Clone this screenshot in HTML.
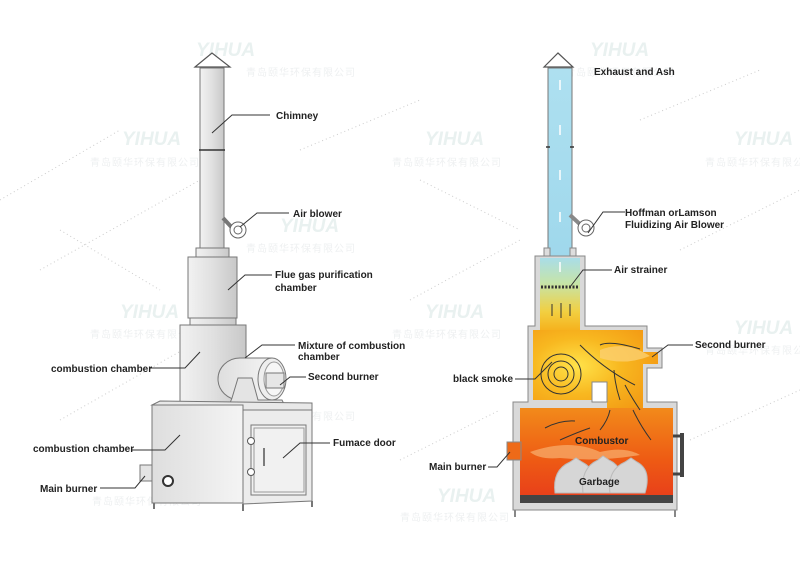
<!DOCTYPE html>
<html><head><meta charset="utf-8"><style>
html,body{margin:0;padding:0;background:#fff;}
svg{display:block;font-family:"Liberation Sans","Noto Sans CJK SC",sans-serif;}
.l{font-size:10px;font-weight:bold;fill:#222;}
.w{font-size:10px;fill:#eef0f1;font-family:"Noto Sans CJK SC",sans-serif;letter-spacing:1px;}
.y{font-size:19px;font-style:italic;font-weight:bold;fill:#e9f1f0;}
.ln{stroke:#333;stroke-width:1;fill:none;}
.d{stroke:#ccc;stroke-width:1;stroke-dasharray:1 3;fill:none;}
</style></head><body>
<svg width="800" height="566" viewBox="0 0 800 566">
<defs>
<linearGradient id="g" x1="0" x2="1"><stop offset="0" stop-color="#f2f2f2"/><stop offset=".5" stop-color="#e0e0e0"/><stop offset="1" stop-color="#c8c8c8"/></linearGradient>
<linearGradient id="g2" x1="0" x2="1"><stop offset="0" stop-color="#dedede"/><stop offset="1" stop-color="#f4f4f4"/></linearGradient>
<linearGradient id="bl" x1="0" y1="0" x2="0" y2="1"><stop offset="0" stop-color="#aee0f0"/><stop offset="1" stop-color="#9fd8ec"/></linearGradient>
<linearGradient id="fl" x1="0" y1="0" x2="0" y2="1"><stop offset="0" stop-color="#a9dde8"/><stop offset=".35" stop-color="#c6e4a8"/><stop offset=".75" stop-color="#f2cf40"/><stop offset="1" stop-color="#f5b21e"/></linearGradient>
<radialGradient id="up" cx=".35" cy=".45" r=".7"><stop offset="0" stop-color="#ffe34a"/><stop offset=".5" stop-color="#f8b820"/><stop offset="1" stop-color="#f39a14"/></radialGradient>
<linearGradient id="lo" x1="0" y1="0" x2="0" y2="1"><stop offset="0" stop-color="#f28a1a"/><stop offset=".6" stop-color="#ee5a14"/><stop offset="1" stop-color="#e8401a"/></linearGradient>
</defs>

<!-- faint dotted diagonals -->
<g class="d"><path d="M0 200 L120 130"/><path d="M40 270 L200 180"/><path d="M60 420 L200 340"/><path d="M60 230 L160 290"/><path d="M300 150 L420 100"/><path d="M410 300 L520 240"/><path d="M400 460 L500 410"/><path d="M680 250 L800 190"/><path d="M690 440 L800 390"/><path d="M420 180 L520 230"/><path d="M640 120 L760 70"/></g>

<!-- watermarks -->
<g>
<text class="y" x="196" y="56">YIHUA</text><text class="w" x="246" y="76">青岛颐华环保有限公司</text>
<text class="y" x="590" y="56">YIHUA</text><text class="w" x="565" y="76">青岛颐华环保有限公司</text>
<text class="y" x="122" y="145">YIHUA</text><text class="w" x="90" y="166">青岛颐华环保有限公司</text>
<text class="y" x="425" y="145">YIHUA</text><text class="w" x="392" y="166">青岛颐华环保有限公司</text>
<text class="y" x="734" y="145">YIHUA</text><text class="w" x="705" y="166">青岛颐华环保有限公司</text>
<text class="y" x="280" y="232">YIHUA</text><text class="w" x="246" y="252">青岛颐华环保有限公司</text>
<text class="y" x="120" y="318">YIHUA</text><text class="w" x="90" y="338">青岛颐华环保有限公司</text>
<text class="y" x="425" y="318">YIHUA</text><text class="w" x="392" y="338">青岛颐华环保有限公司</text>
<text class="y" x="734" y="334">YIHUA</text><text class="w" x="705" y="354">青岛颐华环保有限公司</text>
<text class="w" x="246" y="420">青岛颐华环保有限公司</text>
<text class="y" x="437" y="502">YIHUA</text><text class="w" x="400" y="521">青岛颐华环保有限公司</text>
<text class="w" x="92" y="505">青岛颐华环保有限公司</text>
</g>

<!-- LEFT: chimney -->
<path d="M195 67 L212 53 L230 67 Z" fill="#fff" stroke="#555" stroke-width="1.2"/>
<rect x="200" y="68" width="24" height="182" fill="url(#g)" stroke="#777"/>
<line x1="199" y1="150" x2="225" y2="150" stroke="#333" stroke-width="1.5"/>
<rect x="196" y="248" width="33" height="9" fill="url(#g)" stroke="#777"/>
<rect x="188" y="257" width="49" height="61" fill="url(#g)" stroke="#777"/>
<rect x="190" y="318" width="46" height="7" fill="url(#g)" stroke="#777"/>
<rect x="180" y="325" width="66" height="82" fill="url(#g)" stroke="#777"/>
<path d="M223 218 L236 232" stroke="#777" stroke-width="4"/>
<circle cx="238" cy="230" r="8" fill="#fff" stroke="#666"/><circle cx="238" cy="230" r="4" fill="none" stroke="#666"/>
<path d="M240 358 L272 358 L272 400 L240 400 A22 21 0 0 1 240 358 Z" fill="url(#g2)" stroke="#777"/>
<ellipse cx="272" cy="379" rx="14" ry="21" fill="#eee" stroke="#777"/>
<ellipse cx="274" cy="379" rx="10" ry="17" fill="#f6f6f6" stroke="#999"/>
<rect x="266" y="373" width="18" height="15" fill="#e6e6e6" stroke="#777"/>
<path d="M238 378 L252 378 L258 400 L282 400 L286 408 L228 408 L232 398 Z" fill="#e4e4e4" stroke="#777"/>
<path d="M152 405 L160 401 L312 403 L312 410 L243 410 Z" fill="#e8e8e8" stroke="#777"/>
<rect x="152" y="405" width="91" height="98" fill="url(#g2)" stroke="#777"/>
<path d="M243 410 L312 410 L312 501 L243 504 Z" fill="#ececec" stroke="#777"/>
<rect x="251" y="425" width="55" height="70" fill="#f1f1f1" stroke="#777"/>
<rect x="254" y="428" width="50" height="64" fill="none" stroke="#999"/>
<circle cx="251" cy="441" r="3.5" fill="#fff" stroke="#555"/><circle cx="251" cy="472" r="3.5" fill="#fff" stroke="#555"/>
<path d="M264 448 L264 466" stroke="#555" stroke-width="1.5"/>
<rect x="140" y="465" width="12" height="16" fill="#e4e4e4" stroke="#777"/>
<circle cx="168" cy="481" r="5" fill="#fff" stroke="#333" stroke-width="2"/>
<path d="M154 503v6M243 504v7M312 501v6" stroke="#777" stroke-width="2"/>

<g class="ln"><path d="M212 133 L232 115 L270 115"/><path d="M240 227 L257 213 L289 213"/><path d="M228 290 L245 275 L272 275"/><path d="M150 368 L185 368 L200 352"/><path d="M245 358 L262 345 L295 345"/><path d="M280 385 L290 377 L306 377"/><path d="M132 450 L165 450 L180 435"/><path d="M283 458 L300 443 L330 443"/><path d="M100 488 L135 488 L145 476"/></g>
<text class="l" x="276" y="119">Chimney</text>
<text class="l" x="293" y="217">Air blower</text>
<text class="l" x="275" y="278">Flue gas purification</text><text class="l" x="275" y="291">chamber</text>
<text class="l" x="51" y="372">combustion chamber</text>
<text class="l" x="298" y="349">Mixture of combustion</text><text class="l" x="298" y="360">chamber</text>
<text class="l" x="308" y="380">Second burner</text>
<text class="l" x="33" y="452">combustion chamber</text>
<text class="l" x="333" y="446">Fumace door</text>
<text class="l" x="40" y="492">Main burner</text>

<!-- RIGHT -->
<path d="M544 67 L558 53 L573 67 Z" fill="#fff" stroke="#555" stroke-width="1.2"/>
<rect x="548" y="68" width="24" height="190" fill="url(#bl)" stroke="#777"/>
<path d="M546 147h4M570 147h4" stroke="#333" stroke-width="1.5"/>
<path d="M570 215 L583 227" stroke="#888" stroke-width="4"/>
<circle cx="586" cy="228" r="8" fill="#fff" stroke="#666"/><circle cx="586" cy="228" r="4" fill="none" stroke="#666"/>
<rect x="544" y="248" width="6" height="10" fill="#ddd" stroke="#888"/><rect x="570" y="248" width="6" height="10" fill="#ddd" stroke="#888"/>
<path d="M535 256 L585 256 L585 326 L647 326 L647 348 L662 348 L662 368 L647 368 L647 402 L677 402 L677 510 L513 510 L513 402 L528 402 L528 326 L535 326 Z" fill="#d9d9d9" stroke="#888"/>
<rect x="540" y="258" width="40" height="72" fill="url(#fl)"/>
<path d="M533 330 L643 330 L643 352 L658 352 L658 364 L643 364 L643 410 L607 410 L607 382 L592 382 L592 400 L533 400 Z" fill="url(#up)"/>
<rect x="592" y="382" width="15" height="20" fill="#fff" stroke="#888"/>
<rect x="520" y="408" width="153" height="88" fill="url(#lo)"/>
<rect x="507" y="442" width="14" height="18" fill="#ee6a18" stroke="#888"/>
<path d="M530 452 Q570 438 600 452 Q625 446 640 455 Q600 462 560 458 Q540 460 530 452Z" fill="#f8b070" opacity=".7"/>
<path d="M600 350 Q625 340 650 356 Q625 366 600 358Z" fill="#fbd070" opacity=".8"/>
<rect x="520" y="495" width="153" height="8" fill="#444"/>
<rect x="680" y="433" width="4" height="44" fill="#444"/><path d="M673 436h8M673 474h8" stroke="#444" stroke-width="3"/>
<path d="M515 510v7M675 510v7" stroke="#888" stroke-width="2"/>
<line x1="541" y1="287" x2="579" y2="287" stroke="#333" stroke-width="3" stroke-dasharray="2 1.5"/>
<g stroke="#fff" stroke-width="1.5"><path d="M560 90v-10"/><path d="M560 135v-10"/><path d="M560 180v-10"/><path d="M560 222v-10"/><path d="M560 272v-10"/></g>
<g fill="none" stroke="#333" stroke-width="1"><circle cx="561" cy="374" r="20"/><circle cx="561" cy="374" r="13"/><circle cx="561" cy="374" r="7"/>
<path d="M552 316v-12M561 318v-15M570 316v-12"/><path d="M640 349 Q610 340 600 345"/><path d="M635 385 Q605 370 580 345"/><path d="M620 400 Q615 385 614 370"/><path d="M640 410 Q630 395 625 385"/><path d="M545 428 Q560 420 575 421"/><path d="M560 440 Q578 432 590 428"/><path d="M600 430 Q608 420 610 410"/><path d="M651 440 Q640 425 633 410"/></g>
<g fill="#d6d6d6" stroke="#bbb"><path d="M555 493 Q552 470 570 462 L576 458 L582 462 Q598 470 596 493Z"/><path d="M583 493 Q580 468 598 460 L603 456 L609 460 Q626 468 623 493Z"/><path d="M610 493 Q607 470 625 462 L631 458 L637 462 Q652 470 645 493Z"/></g>
<text class="l" x="575" y="444">Combustor</text>
<text class="l" x="579" y="485">Garbage</text>
<g class="ln"><path d="M588 233 L603 212 L625 212"/><path d="M570 287 L583 270 L612 270"/><path d="M515 379 L535 379 L552 362"/><path d="M652 357 L668 345 L693 345"/><path d="M488 467 L497 467 L510 452"/></g>
<text class="l" x="594" y="75">Exhaust and Ash</text>
<text class="l" x="625" y="216">Hoffman orLamson</text><text class="l" x="625" y="228">Fluidizing Air Blower</text>
<text class="l" x="614" y="273">Air strainer</text>
<text class="l" x="695" y="348">Second burner</text>
<text class="l" x="453" y="382">black smoke</text>
<text class="l" x="429" y="470">Main burner</text>
</svg>
</body></html>
